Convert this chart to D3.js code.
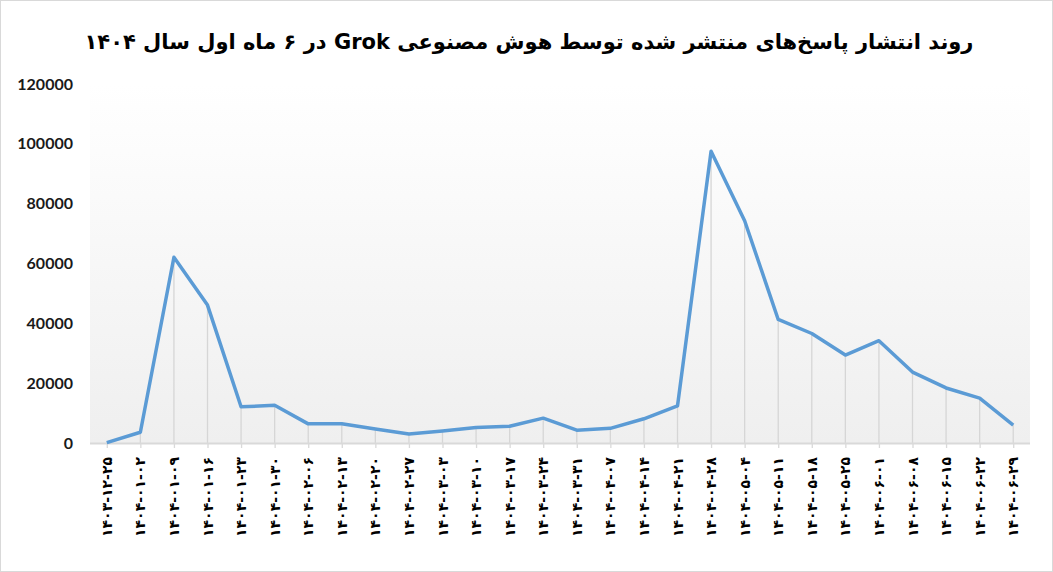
<!DOCTYPE html>
<html>
<head>
<meta charset="utf-8">
<script src="https://cdn.jsdelivr.net/npm/d3@7"></script>
<style>
  body { margin: 0; background: #fff; }
  #chart { width: 1053px; height: 572px; }
</style>
</head>
<body>
<div id="chart"></div>
<script>
var title = 'روند انتشار پاسخ‌های منتشر شده توسط هوش مصنوعی Grok در ۶ ماه اول سال ۱۴۰۴'

var dates = [
    '۱۴۰۳-۱۲-۲۵', '۱۴۰۴-۰۱-۰۲', '۱۴۰۴-۰۱-۰۹', '۱۴۰۴-۰۱-۱۶', '۱۴۰۴-۰۱-۲۳', '۱۴۰۴-۰۱-۳۰',
    '۱۴۰۴-۰۲-۰۶', '۱۴۰۴-۰۲-۱۳', '۱۴۰۴-۰۲-۲۰', '۱۴۰۴-۰۲-۲۷', '۱۴۰۴-۰۳-۰۳', '۱۴۰۴-۰۳-۱۰',
    '۱۴۰۴-۰۳-۱۷', '۱۴۰۴-۰۳-۲۴', '۱۴۰۴-۰۳-۳۱', '۱۴۰۴-۰۴-۰۷', '۱۴۰۴-۰۴-۱۴', '۱۴۰۴-۰۴-۲۱',
    '۱۴۰۴-۰۴-۲۸', '۱۴۰۴-۰۵-۰۴', '۱۴۰۴-۰۵-۱۱', '۱۴۰۴-۰۵-۱۸', '۱۴۰۴-۰۵-۲۵', '۱۴۰۴-۰۶-۰۱',
    '۱۴۰۴-۰۶-۰۸', '۱۴۰۴-۰۶-۱۵', '۱۴۰۴-۰۶-۲۲', '۱۴۰۴-۰۶-۲۹'
]

var responses = [
    100, 3600, 62100, 46100, 12100, 12600,
    6400, 6400, 4700, 3000, 4000, 5200,
    5600, 8300, 4300, 4900, 8100, 12400,
    97500, 74300, 41300, 36600, 29400, 34200,
    23700, 18400, 15000, 6000
]

var yTicks = [0, 20000, 40000, 60000, 80000, 100000, 120000]

var width = 1053
var height = 572
var margin = { top: 84, right: 23, bottom: 129, left: 90 }

var svg = d3.select('#chart').append('svg')
    .attr('width', width)
    .attr('height', height)

// border round the chart
svg.append('rect')
    .attr('x', 0.5).attr('y', 0.5)
    .attr('width', width - 1).attr('height', height - 1)
    .attr('fill', '#fff')
    .attr('stroke', '#d9d9d9')

var defs = svg.append('defs')
var grad = defs.append('linearGradient')
    .attr('id', 'bg')
    .attr('x1', 0).attr('y1', 0).attr('x2', 0).attr('y2', 1)
grad.append('stop').attr('offset', '0%').attr('stop-color', '#ffffff')
grad.append('stop').attr('offset', '100%').attr('stop-color', '#efefef')

var x = d3.scalePoint()
    .domain(dates)
    .range([margin.left, width - margin.right])
    .padding(0.5)

var y = d3.scaleLinear()
    .domain([0, 120000])
    .range([height - margin.bottom, margin.top])

svg.append('rect')
    .attr('x', margin.left)
    .attr('y', margin.top)
    .attr('width', width - margin.left - margin.right)
    .attr('height', height - margin.top - margin.bottom)
    .attr('fill', 'url(#bg)')

svg.append('text')
    .attr('x', 529)
    .attr('y', 49)
    .attr('text-anchor', 'middle')
    .attr('direction', 'rtl')
    .style('font-family', 'DejaVu Sans')
    .style('font-weight', 'bold')
    .style('font-size', '21px')
    .text(title)

// y labels, no axis line
svg.append('g')
    .selectAll('text')
    .data(yTicks)
    .enter().append('text')
    .attr('x', 73)
    .attr('y', function(d) { return y(d) })
    .attr('dy', '0.35em')
    .attr('text-anchor', 'end')
    .style('font-family', 'Lato')
    .style('font-weight', 'bold')
    .style('font-size', '16px')
    .attr('fill', '#1a1a1a')
    .text(function(d) { return d })

// drop lines
svg.append('g')
    .selectAll('line')
    .data(dates)
    .enter().append('line')
    .attr('x1', function(d) { return x(d) })
    .attr('x2', function(d) { return x(d) })
    .attr('y1', function(d, i) { return y(responses[i]) })
    .attr('y2', y(0))
    .attr('stroke', '#d6d6d6')
    .attr('stroke-width', 1.3)

// x axis
var xAxis = svg.append('g')
    .attr('transform', 'translate(0,' + y(0) + ')')
    .call(d3.axisBottom(x).tickSize(5).tickSizeOuter(0).tickFormat(''))
xAxis.select('.domain')
    .attr('d', 'M' + margin.left + ',0.5H' + (width - margin.right))
    .attr('stroke', '#d9d9d9')
    .attr('stroke-width', 2)
xAxis.selectAll('.tick line').attr('stroke', '#d9d9d9').attr('stroke-width', 1.3)

svg.append('g')
    .selectAll('text')
    .data(dates)
    .enter().append('text')
    .attr('transform', function(d) {
        return 'translate(' + (x(d) + 5) + ',' + 457 + ') rotate(-90)'
    })
    .attr('text-anchor', 'end')
    .style('font-family', 'DejaVu Sans')
    .style('font-weight', 'bold')
    .style('font-size', '14px')
    .style('letter-spacing', '1px')
    .text(function(d) { return d })

var line = d3.line()
    .x(function(d, i) { return x(dates[i]) })
    .y(function(d) { return y(d) })

svg.append('path')
    .datum(responses)
    .attr('d', line)
    .attr('fill', 'none')
    .attr('stroke', '#5b9bd5')
    .attr('stroke-width', 3.5)
    .attr('stroke-linejoin', 'round')
</script>
</body>
</html>
